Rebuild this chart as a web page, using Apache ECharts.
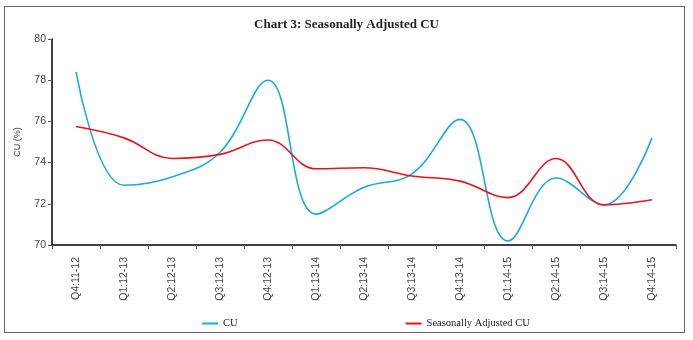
<!DOCTYPE html>
<html><head><meta charset="utf-8">
<script src="https://cdn.jsdelivr.net/npm/echarts@6/dist/echarts.min.js"></script>
<style>
html,body{margin:0;padding:0;background:#fff;}
#frame{position:absolute;left:4px;top:6px;width:681px;height:327px;border:1px solid #666;box-sizing:border-box;}
#c{position:absolute;left:0;top:0;width:693px;height:340px;}
</style></head>
<body>
<div id="frame"></div>
<div id="c"></div>
<script>
const categories = ["Q4:11-12","Q1:12-13","Q2:12-13","Q3:12-13","Q4:12-13","Q1:13-14","Q2:13-14","Q3:13-14","Q4:13-14","Q1:14-15","Q2:14-15","Q3:14-15","Q4:14-15"];
const cu = [78.4, 72.9, 73.3, 74.5, 78.0, 71.5, 72.8, 73.45, 76.1, 70.2, 73.25, 71.95, 75.2];
const saCu = [75.75, 75.2, 74.2, 74.4, 75.1, 73.7, 73.75, 73.35, 73.1, 72.3, 74.2, 71.95, 72.2];
const yTicks = [70, 72, 74, 76, 78, 80];

const chart = echarts.init(document.getElementById('c'));
chart.setOption({
  animation: false,
  backgroundColor: 'transparent',
  title: {
    text: 'Chart 3: Seasonally Adjusted CU',
    left: 'center', top: 13,
    textStyle: {fontFamily: 'Liberation Serif', fontWeight: 'bold', fontSize: 13, color: '#222'}
  },
  legend: {
    left: 197, top: 313,
    itemGap: 168, itemWidth: 16, itemHeight: 2,
    icon: 'rect',
    textStyle: {fontFamily: 'Liberation Serif', fontSize: 10.5, color: '#222'},
    data: ['CU', 'Seasonally Adjusted CU']
  },
  grid: {left: 52, right: 17, top: 39, bottom: 95},
  xAxis: {
    type: 'category',
    data: categories,
    boundaryGap: true,
    axisLine: {lineStyle: {color: '#000', width: 1.5}},
    axisTick: {show: true, length: 4, lineStyle: {color: '#555'}, alignWithLabel: false},
    axisLabel: {rotate: 90, margin: 12, fontFamily: 'Liberation Sans', fontSize: 10.5, color: '#444'}
  },
  yAxis: {
    type: 'value', min: yTicks[0], max: yTicks[yTicks.length-1], interval: 2,
    name: 'CU (%)', nameLocation: 'middle', nameGap: 30, nameRotate: 90,
    nameTextStyle: {fontFamily: 'Liberation Sans', fontSize: 9, color: '#333'},
    axisLine: {show: true, lineStyle: {color: '#000', width: 1.5}},
    axisTick: {show: true, length: 4, lineStyle: {color: '#555'}},
    splitLine: {show: false},
    axisLabel: {fontFamily: 'Liberation Sans', fontSize: 10.5, color: '#444', margin: 6}
  },
  series: [
    {name: 'CU', type: 'line', data: cu, smooth: 0.4, showSymbol: false,
     lineStyle: {color: '#1ba9e6', width: 1.6}, itemStyle: {color: '#1ba9e6'}},
    {name: 'Seasonally Adjusted CU', type: 'line', data: saCu, smooth: 0.4, showSymbol: false,
     lineStyle: {color: '#e8141c', width: 1.6}, itemStyle: {color: '#e8141c'}}
  ]
});
</script>
</body></html>
